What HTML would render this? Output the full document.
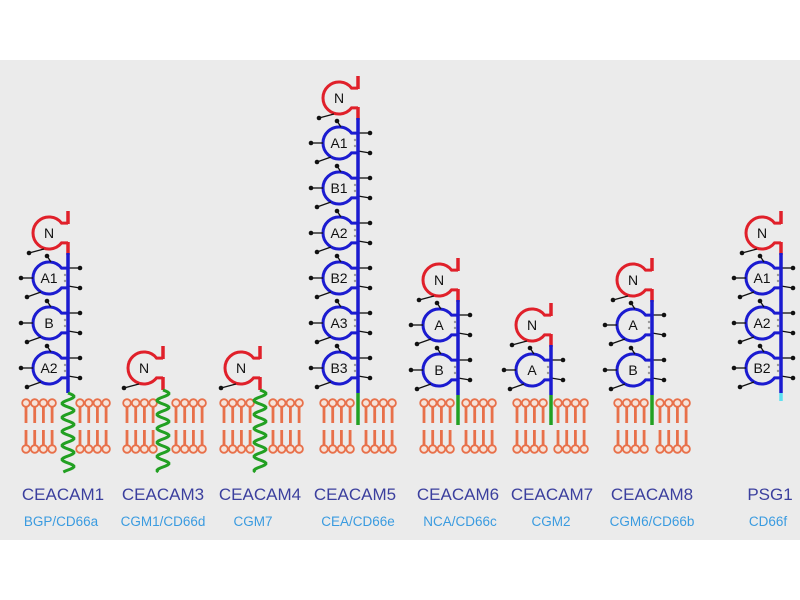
<!DOCTYPE html>
<html><head><meta charset="utf-8"><style>
body{margin:0;width:800px;height:600px;background:#fff;overflow:hidden}
svg{display:block}
</style></head><body>
<svg id="s" width="800" height="600" xmlns="http://www.w3.org/2000/svg">
<rect x="0" y="0" width="800" height="600" fill="#fff"/>
<rect x="0" y="60" width="800" height="480" fill="#ebebeb"/>
<g font-family="Liberation Sans, sans-serif" text-anchor="middle">
<g font-size="17" fill="#3b3f9e">
<text x="63" y="500">CEACAM1</text><text x="163" y="500">CEACAM3</text><text x="260" y="500">CEACAM4</text><text x="355" y="500">CEACAM5</text><text x="458" y="500">CEACAM6</text><text x="552" y="500">CEACAM7</text><text x="652" y="500">CEACAM8</text><text x="770" y="500">PSG1</text>
</g>
<g font-size="13.5" fill="#3a9be0">
<text x="61" y="526">BGP/CD66a</text><text x="163" y="526">CGM1/CD66d</text><text x="253" y="526">CGM7</text><text x="358" y="526">CEA/CD66e</text><text x="460" y="526">NCA/CD66c</text><text x="551" y="526">CGM2</text><text x="652" y="526">CGM6/CD66b</text><text x="768" y="526">CD66f</text>
</g>
</g>
<g id="g"></g>
</svg>
<script>
var out='';
function arc(cx,cy,r,col,sx){
 var a1=-38*Math.PI/180,a2=38*Math.PI/180;
 var x1=cx+r*Math.cos(a1),y1=cy+r*Math.sin(a1),x2=cx+r*Math.cos(a2),y2=cy+r*Math.sin(a2);
 return '<path d="M'+sx+' '+y1+' L'+x1+' '+y1+' A'+r+' '+r+' 0 1 0 '+x2+' '+y2+' L'+sx+' '+y2+'" fill="none" stroke="'+col+'" stroke-width="3"/>';
}
function gly(x1,y1,x2,y2){return '<line x1="'+x1+'" y1="'+y1+'" x2="'+x2+'" y2="'+y2+'" stroke="#111" stroke-width="1.3"/><circle cx="'+x2+'" cy="'+y2+'" r="2.3" fill="#111"/>';}
function mol(sx,nY,doms,tail,memb){
 var cx=sx-19;
 out+=arc(cx,nY,16,'#e0202a',sx);
 out+='<line x1="'+sx+'" y1="'+(nY-22)+'" x2="'+sx+'" y2="'+(nY-9)+'" stroke="#e0202a" stroke-width="3.5"/>';
 var end=nY+25;
 out+='<line x1="'+sx+'" y1="'+(nY+9)+'" x2="'+sx+'" y2="'+(nY+22)+'" stroke="#e0202a" stroke-width="3.5"/>';
 out+='<text x="'+cx+'" y="'+(nY+5)+'" font-family="Liberation Sans,sans-serif" font-size="14" text-anchor="middle" fill="#111">N</text>';
 out+=gly(cx-5,nY+16,cx-20,nY+20);
 doms.forEach(function(d,i){
  var cy=nY+45*(i+1);
  out+=arc(cx,cy,16,'#1b1bd0',sx);
  out+='<text x="'+cx+'" y="'+(cy+5)+'" font-family="Liberation Sans,sans-serif" font-size="14" text-anchor="middle" fill="#111">'+d+'</text>';
  out+='<circle cx="'+(sx-3)+'" cy="'+(cy-3)+'" r="1.2" fill="#999"/><circle cx="'+(sx-3)+'" cy="'+(cy+3)+'" r="1.2" fill="#999"/>';
  out+=gly(cx-16,cy,cx-28,cy);
  out+=gly(sx,cy-10,sx+12,cy-10);
  out+=gly(sx,cy+8,sx+12,cy+10);
  out+=gly(cx-8,cy+14,cx-22,cy+19);
  out+=gly(cx+2,cy-16,cx-2,cy-22);
  end=cy+25;
 });
 if(doms.length)out+='<line x1="'+sx+'" y1="'+(nY+20)+'" x2="'+sx+'" y2="'+end+'" stroke="#1b1bd0" stroke-width="3.5"/>';
 else end=nY+22;
 if(memb){
  [memb[0],memb[1]].forEach(function(rg){
   var n=Math.round((rg[1]-rg[0])/8.7)+1;
   out+='<line x1="'+rg[0]+'" y1="403" x2="'+rg[1]+'" y2="403" stroke="#e8704a" stroke-width="2"/>';
   out+='<line x1="'+rg[0]+'" y1="449" x2="'+rg[1]+'" y2="449" stroke="#e8704a" stroke-width="2"/>';
   for(var k=0;k<n;k++){var x=rg[0]+k*8.7;
    out+='<line x1="'+x+'" y1="406" x2="'+x+'" y2="423" stroke="#e8704a" stroke-width="2.8"/><line x1="'+x+'" y1="430" x2="'+x+'" y2="446" stroke="#e8704a" stroke-width="2.8"/>';
    out+='<circle cx="'+x+'" cy="403" r="3.8" fill="#f5e3da" stroke="#e8704a" stroke-width="1.8"/><circle cx="'+x+'" cy="449" r="3.8" fill="#f5e3da" stroke="#e8704a" stroke-width="1.8"/>';}
  });
 }
 if(tail=='wave'){
  var p='M'+sx+' '+end;
  for(var y=end;y<=472;y+=1){p+=' L'+(sx+6*Math.sin((y-end)*2*Math.PI/14))+' '+y;}
  out+='<path d="'+p+'" fill="none" stroke="#22a022" stroke-width="3"/>';
 } else if(tail=='line'){
  out+='<line x1="'+sx+'" y1="'+end+'" x2="'+sx+'" y2="425" stroke="#22a022" stroke-width="3.5"/>';
 } else if(tail=='gpi'){
  out+='<line x1="'+sx+'" y1="'+end+'" x2="'+sx+'" y2="401" stroke="#5de0f0" stroke-width="3.5"/>';
 }
}
mol(68,233,['A1','B','A2'],'wave',[[26,56],[80,108]]);
mol(163,368,[],'wave',[[127,155],[176,204]]);
mol(260,368,[],'wave',[[224,252],[273,301]]);
mol(358,98,['A1','B1','A2','B2','A3','B3'],'line',[[324,350],[366,394]]);
mol(458,280,['A','B'],'line',[[424,450],[466,494]]);
mol(551,325,['A'],'line',[[517,543],[558,585]]);
mol(652,280,['A','B'],'line',[[618,644],[660,686]]);
mol(781,233,['A1','A2','B2'],'gpi',null);
document.getElementById('g').innerHTML=out;
</script>
</body></html>
